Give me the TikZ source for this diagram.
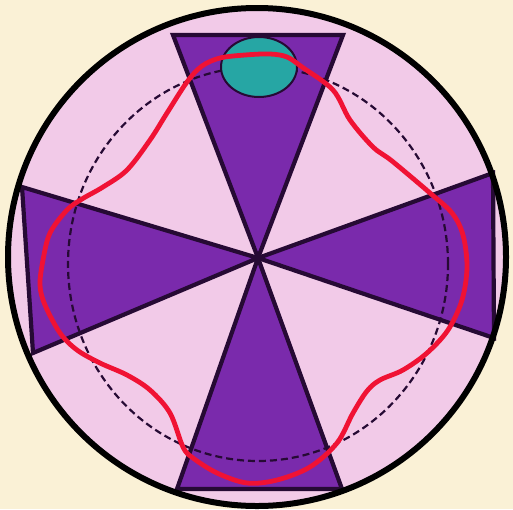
\documentclass[tikz,border=0pt]{standalone}
\begin{document}
\begin{tikzpicture}[x=1pt,y=-1pt,
  tri/.style={fill=purp, draw=darkp, line width=4.2pt},
  dashring/.style={draw=darkp, line width=2.2pt, dash pattern=on 7pt off 4pt},
  redwave/.style={draw=redc, line width=4.8pt, line join=round}]
\definecolor{bg}{RGB}{250,241,214}
\definecolor{pinkf}{RGB}{242,202,232}
\definecolor{purp}{RGB}{122,42,172}
\definecolor{darkp}{RGB}{38,10,52}
\definecolor{tealc}{RGB}{38,166,164}
\definecolor{redc}{RGB}{240,18,52}
\fill[bg] (0,0) rectangle (513,509);
\useasboundingbox (0,0) rectangle (513,509);
\coordinate (O) at (258,258);
\coordinate (C) at (257,257);
\fill[pinkf] (C) circle [radius=249pt];
\filldraw[tri] (O) -- (173,35) -- (343,35) -- cycle;
\filldraw[tri] (O) -- (22,187) -- (33,353) -- cycle;
\filldraw[tri] (O) -- (493,173) -- (494,338) -- cycle;
\filldraw[tri] (O) -- (177,489) -- (342,489) -- cycle;
\coordinate (D) at (258,264);
\draw[dashring] (D) ellipse [x radius=190pt, y radius=197pt];
\coordinate (E) at (259,67);
\filldraw[fill=tealc, draw=darkp, line width=2pt] (E) ellipse [x radius=38pt, y radius=30pt];
\draw[redwave] plot[smooth cycle, tension=0.55] coordinates {
 (245,55) (270,54) (287,57) (302,67) (333,90) (350,120) (373,147) (392,161)
 (430,193) (452,213) (463,235) (467,267) (462,300) (448,330) (427,353)
 (403,370) (380,380) (367,391) (353,413) (337,443) (310,467) (277,480)
 (247,483) (217,473) (193,458) (183,447) (170,413) (150,390) (127,375)
 (100,363) (77,350) (60,333) (45,305) (40,285) (43,260) (50,233) (67,210)
 (82,199) (103,187) (127,170) (150,140) (167,113) (187,82) (202,66) (220,58)};
\draw[black, line width=6pt] (C) circle [radius=249pt];
\end{tikzpicture}
\end{document}
